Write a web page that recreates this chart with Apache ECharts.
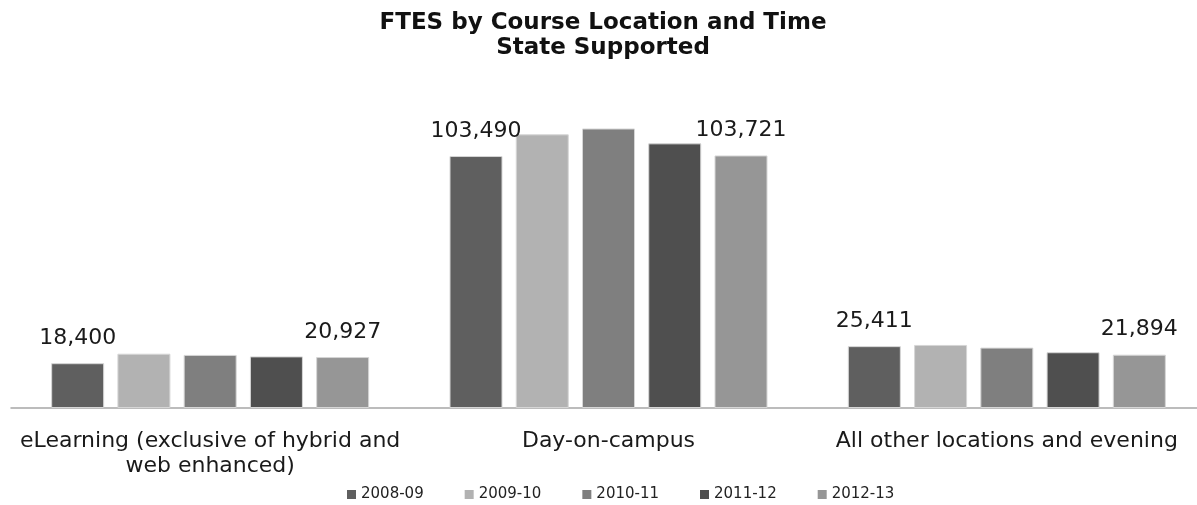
<!DOCTYPE html>
<html lang="en">
<head>
    <meta charset="utf-8">
    <title>FTES by Course Location and Time</title>
    <script type="text/javascript" src="https://cdn.jsdelivr.net/npm/echarts@6/dist/echarts.min.js"></script>
    <style>
        html, body { margin: 0; padding: 0; background: #fff; overflow: hidden; }
        /* a bit wider than the window so the plot runs off the right edge like the original */
        #chart { width: 1206px; height: 505px; }
    </style>
</head>
<body>
<div id="chart"></div>
<script type="text/javascript">
    // categories and years
    var categories = ['eLearning (exclusive of hybrid and\nweb enhanced)', 'Day-on-campus', 'All other locations and evening'];
    var years = ['2008-09', '2009-10', '2010-11', '2011-12', '2012-13'];
    var colors = ['#5f5f5f', '#b2b2b2', '#7f7f7f', '#4f4f4f', '#969696'];

    // FTES per year, same order as categories
    var fy0809 = [18400, 103490, 25411];
    var fy0910 = [22300, 112400, 25900];
    var fy1011 = [21800, 114800, 24800];
    var fy1112 = [21200, 108700, 22900];
    var fy1213 = [20927, 103721, 21894];
    var values = [fy0809, fy0910, fy1011, fy1112, fy1213];

    var font = 'DejaVu Sans, Liberation Sans, sans-serif';

    var series = [];
    for (var i = 0; i < years.length; i++) {
        var showLabel = (i === 0 || i === years.length - 1); // only first and last year labelled
        series.push({
            name: years[i],
            type: 'bar',
            barWidth: 53,
            barGap: '25%',
            itemStyle: {color: colors[i], borderColor: '#d6d6d6', borderWidth: 1},
            label: {
                show: showLabel,
                position: 'top',
                distance: 14,
                fontSize: 22,
                fontFamily: font,
                color: '#1a1a1a',
                formatter: function (p) {
                    return p.value.toLocaleString('en-US');
                }
            },
            data: values[i]
        });
    }

    var chart = echarts.init(document.getElementById('chart'));
    chart.setOption({
        animation: false,
        title: {
            text: 'FTES by Course Location and Time\nState Supported',
            left: 'center',
            top: 6,
            textStyle: {fontSize: 23, fontWeight: 'bold', fontFamily: font, color: '#111', lineHeight: 25}
        },
        legend: {
            data: years,
            top: 482,
            left: 342,
            icon: 'rect',
            itemWidth: 9,
            itemHeight: 9,
            itemGap: 41,
            itemStyle: {borderWidth: 0},
            textStyle: {fontSize: 15, fontFamily: font, color: '#222'}
        },
        grid: {left: 11, right: 0, top: 100, bottom: 97, containLabel: false},
        xAxis: {
            type: 'category',
            data: categories,
            axisLine: {lineStyle: {color: '#a6a6a6', width: 1.5}},
            axisTick: {show: false},
            axisLabel: {interval: 0, margin: 21, fontSize: 22, lineHeight: 25, fontFamily: font, color: '#1a1a1a'}
        },
        yAxis: {
            type: 'value',
            min: 0,
            max: 126500,
            show: false,
            splitLine: {show: false}
        },
        series: series
    });
</script>
</body>
</html>
